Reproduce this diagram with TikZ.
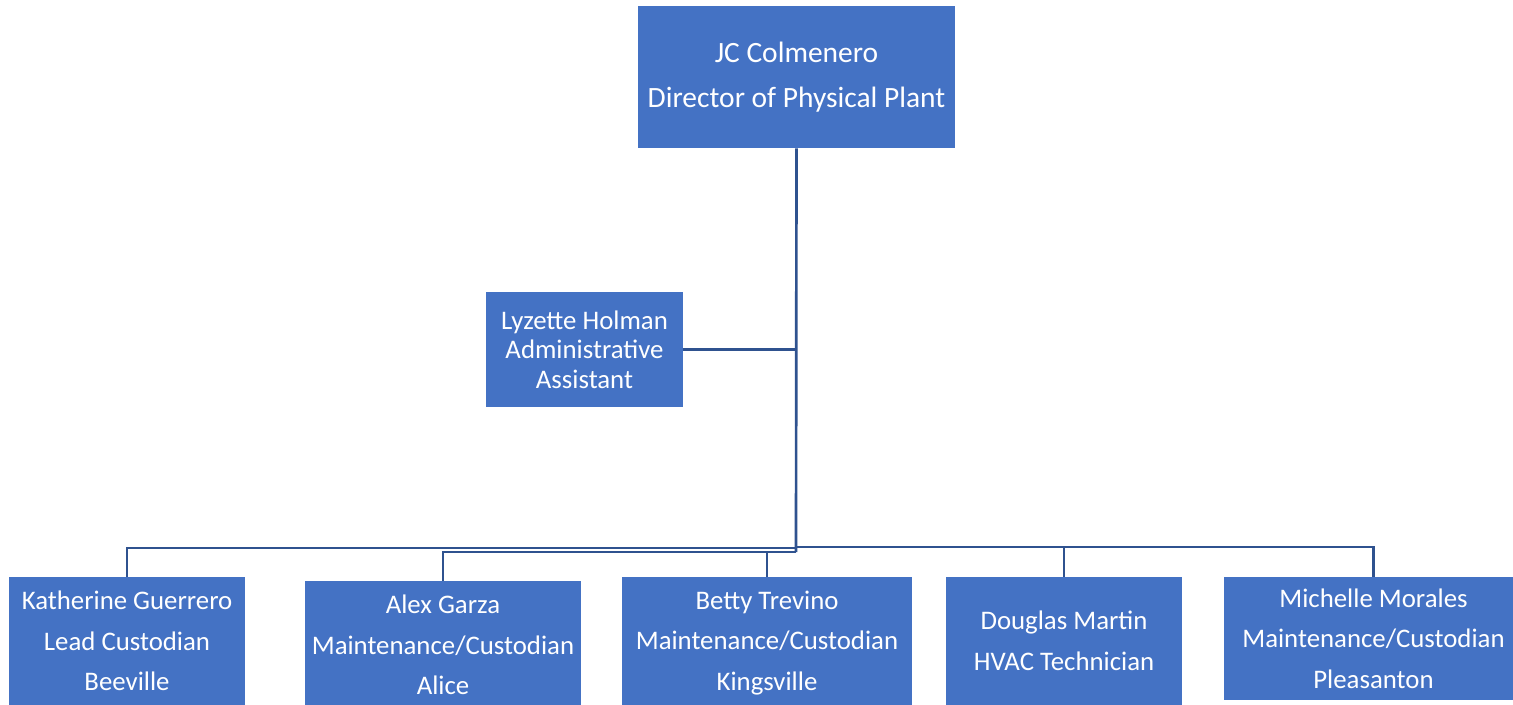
\documentclass[tikz,border=0pt]{standalone}
\usepackage{fontspec}
\setmainfont{Carlito}
\usepackage{tikz}
\usepackage{xcolor}
\definecolor{boxblue}{RGB}{68,114,196}
\definecolor{lineblue}{RGB}{47,82,143}

\begin{document}
\begin{tikzpicture}[x=0.75pt,y=0.75pt,yscale=-1,xscale=1,
  staffbox/.style={fill=boxblue,text=white,inner sep=0pt,align=center,font=\fontsize{20.1}{30.5}\selectfont},
  orgline/.style={draw=lineblue,line width=2pt}]
\useasboundingbox (0,0) rectangle (1513,705);

% Top box
\node [staffbox,minimum width=237.75pt,minimum height=106.5pt,font=\fontsize{22.1}{33.8}\selectfont] (dir) at (796.5,77) {JC Colmenero\\Director of Physical Plant};
% Assistant
\node [staffbox,minimum width=147.75pt,minimum height=86.25pt,font=\fontsize{20.1}{22}\selectfont] (lyz) at (584.5,349.5) {Lyzette Holman\\Administrative\\Assistant};

% Bottom row
\node [staffbox,minimum width=177pt,minimum height=96pt] (kath) at (127,641) {Katherine Guerrero\\Lead Custodian\\Beeville};
\node [staffbox,minimum width=207pt,minimum height=96pt] (alex) at (443,645) {Alex Garza\\Maintenance/Custodian\\Alice};
\node [staffbox,minimum width=217.5pt,minimum height=99pt] (betty) at (767,643) {Betty Trevino\\Maintenance/Custodian\\Kingsville};
\node [staffbox,minimum width=177pt,minimum height=96pt] (doug) at (1064,641) {Douglas Martin\\HVAC Technician};
\node [staffbox,minimum width=224.25pt,minimum height=92.25pt] (mich) at (1373.5,638.5) {Michelle Morales\\Maintenance/Custodian\\Pleasanton};

% bus ends
\coordinate (busL) at (796,548);
\coordinate (busA) at (796,552);
\coordinate (busR) at (796,547);

% Lines
\draw [orgline] (dir.south) -- (busA);
\draw [orgline] (lyz.east) -- (lyz.east -| dir.south);
\draw [orgline] (kath.north) |- (busL);
\draw [orgline] (alex.north) |- (busA);
\draw [orgline] (betty.north) -- (betty.north |- busA);
\draw [orgline] (mich.north) |- (busR);
\draw [orgline] (doug.north) -- (doug.north |- busR);

\end{tikzpicture}
\end{document}
